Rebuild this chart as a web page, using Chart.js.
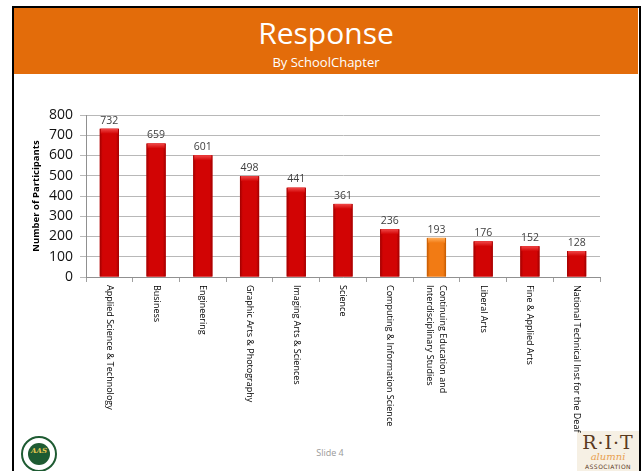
<!DOCTYPE html>
<html lang="en">
<head>
  <meta charset="UTF-8">
  <title>Response by School/Chapter</title>
  <script src="https://cdn.jsdelivr.net/npm/chart.js"></script>
  <style>
    body {
      margin: 0;
      width: 642px;
      height: 471px;
      overflow: hidden;
      background: #fff;
      font-family: 'Open Sans', sans-serif;
      position: relative;
    }
    #slide {
      position: absolute;
      left: 12px;
      top: 6px;
      width: 625px;
      height: 520px;
      border: 2px solid #000;
    }
    #header {
      position: absolute;
      left: 0;
      top: 0;
      width: 624px;
      height: 66px;
      background: #E36C0A;
      color: #fff;
      text-align: center;
    }
    #header h1 {
      margin: 0;
      position: absolute;
      top: 8px;
      width: 100%;
      font-weight: normal;
      font-size: 30px;
      line-height: 34px;
    }
    #header h2 {
      margin: 0;
      position: absolute;
      top: 46px;
      width: 100%;
      font-weight: normal;
      font-size: 13px;
      line-height: 16px;
    }
    #footer {
      position: absolute;
      left: 290px;
      top: 446px;
      width: 80px;
      text-align: center;
      font-size: 9px;
      color: #999;
    }
    #pageChart {
      position: absolute;
      left: 0;
      top: 0;
    }
    .logo-aas {
      position: absolute;
      left: 21px;
      top: 436px;
      width: 32px;
      height: 32px;
      border-radius: 50%;
      border: 2px solid #1E5B32;
      background: #fff;
    }
    .logo-aas div {
      position: absolute;
      left: 5px;
      top: 5px;
      width: 22px;
      height: 22px;
      border-radius: 50%;
      background: #1E5B32;
      color: #E8C850;
      font: italic bold 7px 'DejaVu Serif', serif;
      text-align: center;
      line-height: 16px;
    }
    .logo-rit {
      position: absolute;
      left: 577px;
      top: 431px;
      width: 62px;
      height: 42px;
      background: #F6F0E4;
      text-align: center;
      color: #5A3A1E;
    }
    .logo-rit .r { font: 19px 'DejaVu Serif', serif; line-height: 20px; margin-top: 1px; letter-spacing: 1px; }
    .logo-rit .a { font: italic 10px 'DejaVu Serif', serif; color: #E8A050; line-height: 10px; }
    .logo-rit .s { font: 6px 'DejaVu Sans', sans-serif; line-height: 9px; letter-spacing: 0.5px; }
  </style>
</head>
<body>
  <div id="slide">
    <div id="header">
      <h1>Response</h1>
      <h2>By SchoolChapter</h2>
    </div>
  </div>
  <div class="logo-aas"><div>AAS</div></div>
  <div class="logo-rit">
    <div class="r">R·I·T</div>
    <div class="a">alumni</div>
    <div class="s">ASSOCIATION</div>
  </div>
  <div id="footer">Slide 4</div>
  <canvas id="pageChart" width="642" height="471"></canvas>
  <script>
    const categories = [
      'Applied Science & Technology',
      'Business',
      'Engineering',
      'Graphic Arts & Photography',
      'Imaging Arts & Sciences',
      'Science',
      'Computing & Information Science',
      ['Continuing Education and', 'Interdisciplinary Studies'],
      'Liberal Arts',
      'Fine & Applied Arts',
      'National Technical Inst for the Deaf'
    ];
    const participants = [732, 659, 601, 498, 441, 361, 236, 193, 176, 152, 128];
    const highlightIndex = 7;
    const yTicks = [0, 100, 200, 300, 400, 500, 600, 700, 800];

    const red = { edge: '#A00000', mid: '#D20404', top: '#F04848' };
    const orange = { edge: '#C45A00', mid: '#F27B14', top: '#FFAE5A' };

    // paints the bevelled look over each bar, then the value above it
    const barLook = {
      id: 'barLook',
      afterDatasetsDraw(chart) {
        const ctx = chart.ctx;
        const meta = chart.getDatasetMeta(0);
        meta.data.forEach((bar, i) => {
          const c = i === highlightIndex ? orange : red;
          const left = bar.x - bar.width / 2;
          const h = bar.base - bar.y;
          const g = ctx.createLinearGradient(left, 0, left + bar.width, 0);
          g.addColorStop(0, c.edge);
          g.addColorStop(0.15, c.mid);
          g.addColorStop(0.85, c.mid);
          g.addColorStop(1, c.edge);
          ctx.save();
          ctx.fillStyle = g;
          ctx.fillRect(left, bar.y, bar.width, h);
          const t = ctx.createLinearGradient(0, bar.y, 0, bar.y + 5);
          t.addColorStop(0, c.top);
          t.addColorStop(1, c.mid);
          ctx.fillStyle = t;
          ctx.fillRect(left + 1, bar.y, bar.width - 2, 5);
          ctx.fillStyle = '#404040';
          ctx.font = '10.5px "Open Sans", sans-serif';
          ctx.textAlign = 'center';
          ctx.textBaseline = 'bottom';
          ctx.fillText(participants[i], bar.x, bar.y - 3);
          ctx.restore();
        });
      },
      afterDraw(chart) {
        // category names read top to bottom under the axis
        const ctx = chart.ctx;
        const xs = chart.scales.x;
        ctx.save();
        ctx.fillStyle = '#000';
        ctx.font = '9px "Open Sans", sans-serif';
        ctx.textAlign = 'left';
        ctx.textBaseline = 'middle';
        categories.forEach((label, i) => {
          const lines = Array.isArray(label) ? label : [label];
          const x = xs.getPixelForValue(i);
          ctx.save();
          ctx.translate(x, chart.chartArea.bottom + 8);
          ctx.rotate(Math.PI / 2);
          lines.forEach((line, j) => {
            const off = (j - (lines.length - 1) / 2) * 13;
            ctx.fillText(line, 0, off);
          });
          ctx.restore();
        });
        ctx.restore();
      }
    };

    new Chart(document.getElementById('pageChart'), {
      type: 'bar',
      data: {
        labels: categories,
        datasets: [{
          data: participants,
          backgroundColor: participants.map((v, i) => i === highlightIndex ? orange.mid : red.mid),
          borderWidth: 0,
          categoryPercentage: 1,
          barPercentage: 0.41
        }]
      },
      options: {
        responsive: false,
        animation: false,
        devicePixelRatio: 1,
        layout: { padding: { top: 115, right: 42, bottom: 0, left: 27 } },
        plugins: {
          legend: { display: false },
          tooltip: { enabled: false }
        },
        scales: {
          x: {
            ticks: { display: false },
            grid: { drawOnChartArea: false, tickLength: 5, color: '#A0A0A0' },
            border: { color: '#909090' },
            afterFit: s => { s.height = 194; }
          },
          y: {
            min: 0,
            max: 800,
            afterBuildTicks: s => { s.ticks = yTicks.map(v => ({ value: v })); },
            ticks: {
              color: '#111',
              font: { family: 'Open Sans', size: 14 },
              padding: 7
            },
            grid: { color: '#B8B8B8', tickLength: 6 },
            border: { color: '#909090' },
            title: {
              display: true,
              text: 'Number of Participants',
              color: '#000',
              font: { family: 'Open Sans', size: 9.5, weight: 'bold' }
            },
            afterFit: s => { s.width = 59; }
          }
        }
      },
      plugins: [barLook]
    });
  </script>
</body>
</html>
